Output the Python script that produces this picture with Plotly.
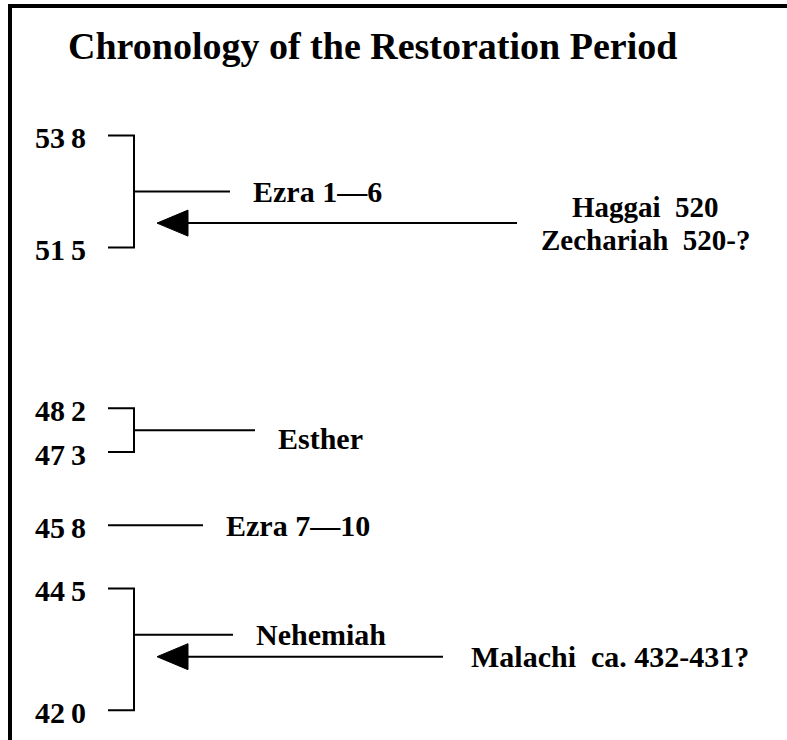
import plotly.graph_objects as go

# ---------------- data ----------------
title_text = "Chronology of the Restoration Period"
year_ticks = [538, 515, 482, 473, 458, 445, 420]
year_tick_text = ["53\u20098", "51\u20095", "48\u20092", "47\u20093", "45\u20098", "44\u20095", "42\u20090"]
book_names = ["Ezra 1\u20146", "Esther", "Ezra 7\u201410", "Nehemiah"]
book_start = [538, 482, 458, 445]
book_end = [515, 473, 458, 420]
prophet_lines = [["Haggai\u00a0 520", "Zechariah\u00a0 520-?"], ["Malachi\u00a0 ca. 432-431?"]]
prophet_year = [520, 431]
prophet_book = [0, 3]

# ---------------- style / layout ----------------
W, H = 787, 740
Y_RANGE = [413.9, 565.8]
PPY = H / (Y_RANGE[1] - Y_RANGE[0])  # pixels per year
FONT = "Liberation Serif"
TICK_X0, BRACKET_X = 108, 134
YEAR_LABEL_X = 60.5
connector_end = [230, 255, 203, 233]
label_gap = 21
label_yshift = [0, -8, 0, 0]
ARROW_TIP, ARROW_BASE = 157, 188
arrow_tail = [517, 443]
prophet_center_x = [645, 610]
prophet_font = [29, 30]
HEAD_HALF_PX = 13
MIN_GAP_PX = 22
LINE_STEP_PX = 33
LW = 2

fig = go.Figure()


def add_line(xs, ys):
    fig.add_trace(go.Scatter(x=xs, y=ys, mode="lines",
                             line=dict(color="black", width=LW),
                             hoverinfo="skip", showlegend=False))


annotations = []

# brackets / connectors and book labels
for i, name in enumerate(book_names):
    s, e = book_start[i], book_end[i]
    if s == e:
        add_line([TICK_X0, connector_end[i]], [s, s])
        cy = s
    else:
        add_line([TICK_X0, BRACKET_X, BRACKET_X, TICK_X0], [s, s, e, e])
        cy = (s + e) / 2
        for j, b in enumerate(prophet_book):
            if b == i and (cy - prophet_year[j]) * PPY < MIN_GAP_PX:
                cy = prophet_year[j] + MIN_GAP_PX / PPY
        add_line([BRACKET_X, connector_end[i]], [cy, cy])
    annotations.append(dict(x=connector_end[i] + label_gap, y=cy, xref="x", yref="y",
                            text=name, showarrow=False, xanchor="left", yanchor="middle",
                            yshift=label_yshift[i],
                            font=dict(family=FONT, size=30, color="black", weight="bold")))

# year labels
for yv, yt in zip(year_ticks, year_tick_text):
    annotations.append(dict(x=YEAR_LABEL_X, y=yv, xref="x", yref="y", text=yt,
                            showarrow=False, xanchor="center", yanchor="middle", yshift=-2,
                            font=dict(family=FONT, size=30, color="black", weight="bold")))

# prophet arrows and labels
dh = HEAD_HALF_PX / PPY
for j, lines in enumerate(prophet_lines):
    yv = prophet_year[j]
    add_line([ARROW_BASE - 1, arrow_tail[j]], [yv, yv])
    fig.add_trace(go.Scatter(x=[ARROW_TIP, ARROW_BASE, ARROW_BASE, ARROW_TIP],
                             y=[yv, yv + dh, yv - dh, yv], mode="lines", fill="toself",
                             fillcolor="black", line=dict(color="black", width=1),
                             hoverinfo="skip", showlegend=False))
    n = len(lines)
    for k, t in enumerate(lines):
        off = (k - (n - 1) / 2) * LINE_STEP_PX
        annotations.append(dict(x=prophet_center_x[j], y=yv, xref="x", yref="y", text=t,
                                showarrow=False, xanchor="center", yanchor="middle",
                                yshift=-off,
                                font=dict(family=FONT, size=prophet_font[j], color="black",
                                          weight="bold")))

# title
annotations.append(dict(x=372 / W, y=1 - 46 / H, xref="paper", yref="paper", text=title_text,
                        showarrow=False, xanchor="center", yanchor="middle",
                        font=dict(family=FONT, size=38, color="black", weight="bold")))

# frame (top and left edges)
shapes = [
    dict(type="line", xref="paper", yref="paper", x0=8 / W, x1=1, y0=1 - 6 / H, y1=1 - 6 / H,
         line=dict(color="black", width=4)),
    dict(type="line", xref="paper", yref="paper", x0=10 / W, x1=10 / W, y0=0, y1=1 - 4 / H,
         line=dict(color="black", width=4)),
]

fig.update_layout(
    width=W, height=H, margin=dict(l=0, r=0, t=0, b=0),
    paper_bgcolor="white", plot_bgcolor="white",
    xaxis=dict(range=[0, W], visible=False, fixedrange=True),
    yaxis=dict(range=Y_RANGE, visible=False, fixedrange=True),
    annotations=annotations, shapes=shapes, showlegend=False,
)

fig.write_html("out.html", config={"displayModeBar": False},
               post_script="document.body.style.margin='0';document.body.style.overflow='hidden';")
